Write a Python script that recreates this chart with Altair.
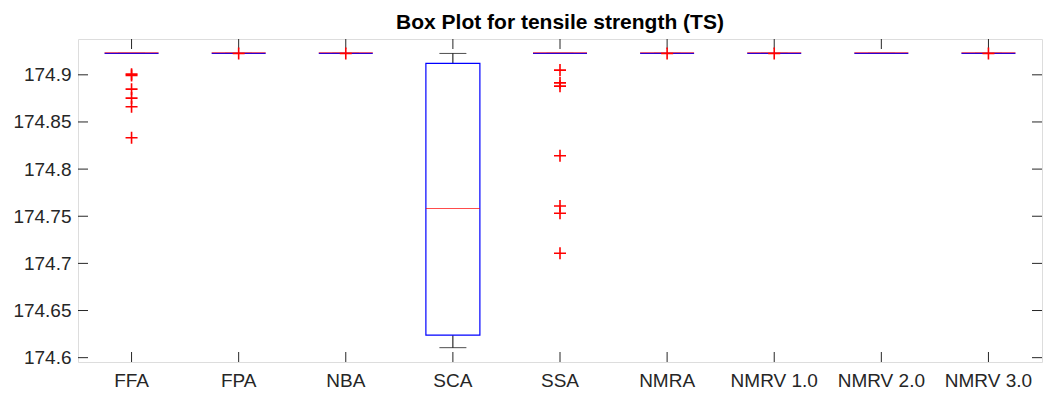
import altair as alt
import pandas as pd

categories = ["FFA", "FPA", "NBA", "SCA", "SSA", "NMRA", "NMRV 1.0", "NMRV 2.0", "NMRV 3.0"]
q1 = [174.9227, 174.9227, 174.9227, 174.6238, 174.9227, 174.9227, 174.9227, 174.9227, 174.9227]
q3 = [174.9227, 174.9227, 174.9227, 174.9121, 174.9227, 174.9227, 174.9227, 174.9227, 174.9227]
median = [174.9227, 174.9227, 174.9227, 174.7577, 174.9227, 174.9227, 174.9227, 174.9227, 174.9227]
lower_whisker = [174.9227, 174.9227, 174.9227, 174.6106, 174.9227, 174.9227, 174.9227, 174.9227, 174.9227]
upper_whisker = [174.9227, 174.9227, 174.9227, 174.9227, 174.9227, 174.9227, 174.9227, 174.9227, 174.9227]
outliers = {
    "FFA": [174.9007, 174.8993, 174.8848, 174.8753, 174.8661, 174.8332],
    "FPA": [174.9226],
    "NBA": [174.9226],
    "SCA": [],
    "SSA": [174.9050, 174.8915, 174.8880, 174.8141, 174.7609, 174.7531, 174.7107],
    "NMRA": [174.9226],
    "NMRV 1.0": [174.9226],
    "NMRV 2.0": [],
    "NMRV 3.0": [174.9226],
}
y_ticks = [174.6, 174.65, 174.7, 174.75, 174.8, 174.85, 174.9]
y_domain = [174.5954, 174.938]

W, H = 964, 323
FONT = "Liberation Sans"
AX = "#262626"

stats = pd.DataFrame({
    "cat": categories, "q1": q1, "q3": q3, "med": median,
    "lo": lower_whisker, "hi": upper_whisker,
})
out_df = pd.DataFrame([(c, v) for c in categories for v in outliers[c]], columns=["cat", "val"])
yt_df = pd.DataFrame({"val": y_ticks})
cat_df = pd.DataFrame({"cat": categories})

xenc = alt.X("cat:N", sort=categories, title=None,
             scale=alt.Scale(paddingInner=0, paddingOuter=0),
             axis=alt.Axis(labelAngle=0, ticks=False, domain=False, grid=False,
                           labelPadding=9, labelFontSize=19, labelFont=FONT, labelColor=AX))
yscale = alt.Scale(domain=y_domain, zero=False, nice=False)
yaxis = alt.Axis(values=y_ticks, format=".4~f", ticks=False, domain=False, grid=False,
                 labelPadding=7, labelFontSize=19, labelFont=FONT, labelColor=AX)

base = alt.Chart(stats)

whisk_up = base.mark_rule(color="black", strokeWidth=1).encode(
    x=xenc, y=alt.Y("q3:Q", scale=yscale, axis=yaxis, title=None), y2="hi:Q")
whisk_lo = base.mark_rule(color="black", strokeWidth=1).encode(
    x=xenc, y=alt.Y("lo:Q", scale=yscale, title=None), y2="q1:Q")
cap_hi = base.mark_tick(color="black", size=27, thickness=1, orient="horizontal").encode(
    x=xenc, y=alt.Y("hi:Q", scale=yscale, title=None))
cap_lo = base.mark_tick(color="black", size=27, thickness=1, orient="horizontal").encode(
    x=xenc, y=alt.Y("lo:Q", scale=yscale, title=None))
box = base.mark_bar(size=54, fill=None, fillOpacity=0, stroke="#0000ff", strokeWidth=1.2).encode(
    x=xenc, y=alt.Y("q1:Q", scale=yscale, title=None), y2="q3:Q")
med = base.mark_tick(color="#ff0000", size=54, thickness=1, orient="horizontal", yOffset=-0.6).encode(
    x=xenc, y=alt.Y("med:Q", scale=yscale, title=None))
pts = alt.Chart(out_df).mark_point(
    shape="M-1,0H1M0,-1V1", size=144, filled=False, stroke="#ff0000", strokeWidth=1.6, opacity=1
).encode(x=xenc, y=alt.Y("val:Q", scale=yscale, title=None))

tick_l = alt.Chart(yt_df).mark_rule(color=AX).encode(
    y=alt.Y("val:Q", scale=yscale, title=None), x=alt.value(0), x2=alt.value(10))
tick_r = alt.Chart(yt_df).mark_rule(color=AX).encode(
    y=alt.Y("val:Q", scale=yscale, title=None), x=alt.value(W - 10), x2=alt.value(W))
tick_t = alt.Chart(cat_df).mark_rule(color=AX).encode(
    x=xenc, y=alt.value(0), y2=alt.value(10))
tick_b = alt.Chart(cat_df).mark_rule(color=AX).encode(
    x=xenc, y=alt.value(H - 10), y2=alt.value(H))

chart = alt.layer(
    tick_l, tick_r, tick_t, tick_b, whisk_up, whisk_lo, cap_hi, cap_lo, box, med, pts
).properties(
    width=W, height=H,
    title=alt.TitleParams("Box Plot for tensile strength (TS)", fontSize=21, fontWeight="bold",
                          font=FONT, color="black", anchor="middle", offset=6),
    autosize=alt.AutoSizeParams(type="none"),
    padding={"left": 78, "top": 39, "right": 1, "bottom": 32},
).configure_view(stroke=AX, strokeWidth=1).configure(background="white")

chart.save("out.html", embed_options={"renderer": "svg", "actions": False})
